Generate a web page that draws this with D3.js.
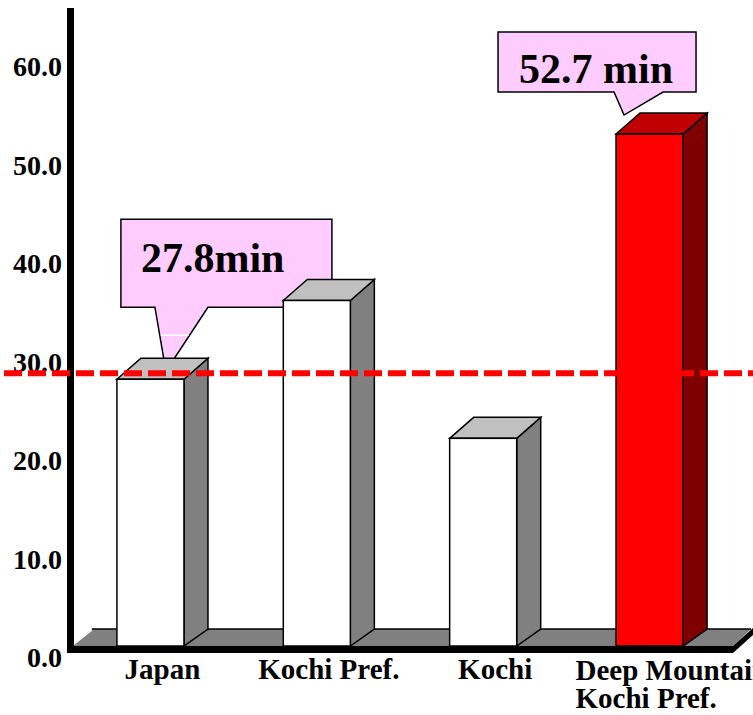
<!DOCTYPE html>
<html>
<head>
<meta charset="utf-8">
<script src="https://cdn.jsdelivr.net/npm/d3@7"></script>
<style>
  html, body { margin: 0; padding: 0; background: #fff; overflow: hidden; }
  svg text { font-family: "Liberation Serif", "Times New Roman", serif; font-weight: bold; fill: #000; }
</style>
</head>
<body>
<svg id="chart" width="753" height="715"></svg>
<script>
// Average travel time (minutes) by area
const categories = ["Japan", "Kochi Pref.", "Kochi", "Deep Mountain Kochi Pref."];
const labelLines = [["Japan"], ["Kochi Pref."], ["Kochi"], ["Deep Mountain", "Kochi Pref."]];
const travelMinutes = [27.8, 35.8, 21.8, 52.7];
const highlighted = [false, false, false, true];
const yTicks = [0, 10, 20, 30, 40, 50, 60];
const referenceValue = 28.4;
const calloutIndex = [0, 3];
const calloutSuffix = ["min", " min"];

const svg = d3.select("#chart");

// Scales
const y = d3.scaleLinear().domain([0, 65.5]).range([653, 8]);
const x = d3.scaleBand().domain(categories).range([72, 728]).paddingInner(0.597).paddingOuter(0.27);
const bw = x.bandwidth();

// 3-D depth offsets
const dx = 24, dy = -21;
const floorFront = 646, floorBack = 629;
const floorLeft = 72, floorRight = 733, floorDx = 18;

// Floor slab
const gFloor = svg.append("g");
gFloor.append("polygon")
  .attr("points", [[floorLeft, floorFront], [floorRight, floorFront], [floorRight + floorDx, floorBack], [floorLeft + 20, floorBack]].join(" "))
  .attr("fill", "#808080");
gFloor.append("line")
  .attr("x1", floorLeft + 20).attr("y1", floorBack).attr("x2", floorRight + floorDx).attr("y2", floorBack)
  .attr("stroke", "#000").attr("stroke-width", 1.5);
gFloor.append("line")
  .attr("x1", floorLeft + 1).attr("y1", floorFront - 1).attr("x2", floorLeft + 20).attr("y2", floorBack + 1)
  .attr("stroke", "#fff").attr("stroke-width", 1.5);
gFloor.append("rect")
  .attr("x", 67).attr("y", floorFront).attr("width", floorRight - 67).attr("height", y(0) - floorFront)
  .attr("fill", "#000");
gFloor.append("polygon")
  .attr("points", [[floorRight, floorFront], [floorRight + floorDx + 2, floorBack - 1], [floorRight + floorDx + 2, floorBack + 6], [floorRight, y(0)]].join(" "))
  .attr("fill", "#000");

// Value axis line
svg.append("rect")
  .attr("x", 67).attr("y", y(65.5)).attr("width", 7).attr("height", y(0) - y(65.5))
  .attr("fill", "#000");

// Callout shape: box with a pointer toward a bar
function drawCallout(i, box, ptr, textOff) {
  const g = svg.append("g");
  const bx = x(categories[i]), by = y(travelMinutes[i]);
  const L = bx + box[0], T = by + box[1], R = L + box[2], B = T + box[3];
  const p1 = bx + ptr[0], p2 = bx + ptr[1], tx = bx + ptr[2], ty = by + ptr[3];
  g.append("path")
    .attr("d", `M${L},${T}H${R}V${B}H${p2}L${tx},${ty}L${p1},${B}H${L}Z`)
    .attr("fill", "#FFCCFF").attr("stroke", "#000").attr("stroke-width", 1.5)
    .attr("stroke-linejoin", "miter");
  g.append("text")
    .attr("x", L + textOff[0]).attr("y", T + textOff[1])
    .style("font-size", "42px")
    .text(d3.format(".1f")(travelMinutes[i]) + calloutSuffix[calloutIndex.indexOf(i)]);
  return { g, L, T, R, B, p1, p2, tx, ty };
}

// First callout sits behind the bars
const c1 = drawCallout(calloutIndex[0], [4, -160, 211, 88], [38, 91, 49, -8], [20, 53]);
{
  const yy = c1.B + 28;
  const t = (yy - c1.B) / (c1.ty - c1.B);
  c1.g.append("line")
    .attr("x1", c1.p1 + (c1.tx - c1.p1) * t + 1).attr("x2", c1.p2 + (c1.tx - c1.p2) * t - 1)
    .attr("y1", yy).attr("y2", yy)
    .attr("stroke", "#fff").attr("stroke-width", 1.5);
}

// Bars
const faces = (hl) => hl
  ? { front: "#FF0000", top: "#C00000", side: "#800000" }
  : { front: "#FFFFFF", top: "#C0C0C0", side: "#808080" };

const gBars = svg.append("g");
categories.forEach((c, i) => {
  const x0 = x(c), yv = y(travelMinutes[i]), col = faces(highlighted[i]);
  const g = gBars.append("g").attr("stroke", "#000").attr("stroke-width", 1.5).attr("stroke-linejoin", "miter");
  g.append("polygon")
    .attr("points", [[x0 + bw, yv], [x0 + bw + dx, yv + dy], [x0 + bw + dx, floorBack], [x0 + bw, floorFront]].join(" "))
    .attr("fill", col.side);
  g.append("polygon")
    .attr("points", [[x0, yv], [x0 + dx, yv + dy], [x0 + bw + dx, yv + dy], [x0 + bw, yv]].join(" "))
    .attr("fill", col.top);
  g.append("rect")
    .attr("x", x0).attr("y", yv).attr("width", bw).attr("height", floorFront - yv)
    .attr("fill", col.front);
});

// Second callout above the tall bar
drawCallout(calloutIndex[1], [-118, -102, 198, 60], [-2, 47, 8, -19], [21, 51]);

// Tick labels
svg.append("g").selectAll("text").data(yTicks).join("text")
  .attr("x", 62).attr("y", d => y(d) + 5).attr("dy", "0.33em")
  .attr("text-anchor", "end")
  .style("font-size", "28px")
  .text(d => d3.format(".1f")(d));

// Category labels
categories.forEach((c, i) => {
  const lines = labelLines[i];
  const cx = x(c) + bw / 2 + 12;
  if (lines.length === 1) {
    svg.append("text")
      .attr("x", cx).attr("y", 679).attr("text-anchor", "middle")
      .style("font-size", "29px").text(lines[0]);
  } else {
    const t = svg.append("text").attr("text-anchor", "start").style("font-size", "29px");
    lines.forEach((ln, k) => {
      t.append("tspan").attr("x", x(c) + bw / 2 - 74).attr("y", 680 + k * 28).text(ln);
    });
  }
});

// Reference line
svg.append("line")
  .attr("x1", 4).attr("x2", 753)
  .attr("y1", y(referenceValue)).attr("y2", y(referenceValue))
  .attr("stroke", "#FF0000").attr("stroke-width", 6)
  .attr("stroke-dasharray", "18,6");
</script>
</body>
</html>
